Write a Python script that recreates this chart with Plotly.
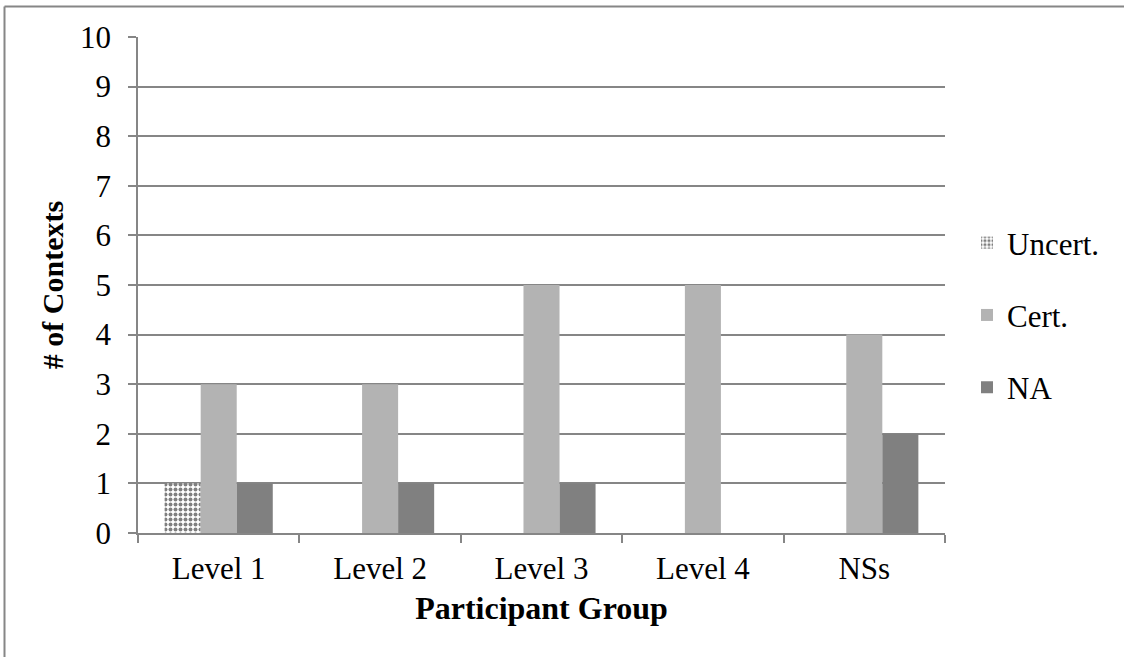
import plotly.graph_objects as go

categories = ["Level 1", "Level 2", "Level 3", "Level 4", "NSs"]
uncert = [1, 0, 0, 0, 0]
cert = [3, 3, 5, 5, 4]
na = [1, 1, 1, 0, 2]
y_ticks = list(range(0, 11))

FONT = "Liberation Serif"

fig = go.Figure()
fig.add_bar(x=categories, y=uncert, name="Uncert.", legendgroup="a",
            marker=dict(color="white", line=dict(width=0),
                        pattern=dict(shape=".", fgcolor="black", bgcolor="white",
                                     size=5, solidity=0.5, fillmode="overlay")))
fig.add_bar(x=categories, y=cert, name="Cert.", legendgroup="b",
            marker=dict(color="#b3b3b3", line=dict(width=0)))
fig.add_bar(x=categories, y=na, name="NA", legendgroup="c",
            marker=dict(color="#808080", line=dict(width=0)))

W, H = 1124, 657
L, R, T, B = 138, 179, 37, 124
PW, PH = W - L - R, H - T - B

fig.update_layout(
    width=W, height=H,
    barmode="group", bargap=0.33, bargroupgap=0,
    plot_bgcolor="white", paper_bgcolor="white",
    margin=dict(l=L, r=R, t=T, b=B),
    font=dict(family=FONT, size=30, color="black"),
    legend=dict(x=(967 - L) / PW, y=(H - B - 216) / PH, yanchor="top", xanchor="left",
                font=dict(family=FONT, size=31), tracegroupgap=29,
                itemwidth=30, bgcolor="rgba(0,0,0,0)"),
    xaxis=dict(
        title=dict(text="<b>Participant Group</b>", font=dict(family=FONT, size=32), standoff=12),
        showline=True, linecolor="#868686", linewidth=1.5,
        ticks="outside", tickson="boundaries", ticklen=8, tickcolor="#868686", tickwidth=1.5,
        tickfont=dict(family=FONT, size=31), showgrid=False, ticklabelstandoff=7,
    ),
    yaxis=dict(
        title=dict(text="<b># of Contexts</b>", font=dict(family=FONT, size=30), standoff=8),
        range=[0, 10], tickvals=y_ticks, showline=True, linecolor="#868686", linewidth=1.5,
        ticks="outside", ticklen=8, tickcolor="#868686", tickwidth=1.5,
        showgrid=True, gridcolor="#868686", gridwidth=1.5, zeroline=False,
        tickfont=dict(family=FONT, size=31), ticklabelstandoff=11,
    ),
    shapes=[
        dict(type="line", xref="paper", yref="paper",
             x0=(4.5 - L) / PW, x1=(W + 10 - L) / PW,
             y0=(H - B - 6.5) / PH, y1=(H - B - 6.5) / PH,
             line=dict(color="#868686", width=2)),
        dict(type="line", xref="paper", yref="paper",
             x0=(4.5 - L) / PW, x1=(4.5 - L) / PW,
             y0=(H - B - 6.5) / PH, y1=-(B + 10) / PH,
             line=dict(color="#868686", width=2)),
    ],
)

fig.write_html("out.html", config={"displayModeBar": False},
               post_script="document.body.style.margin='0';document.body.style.overflow='hidden';")
